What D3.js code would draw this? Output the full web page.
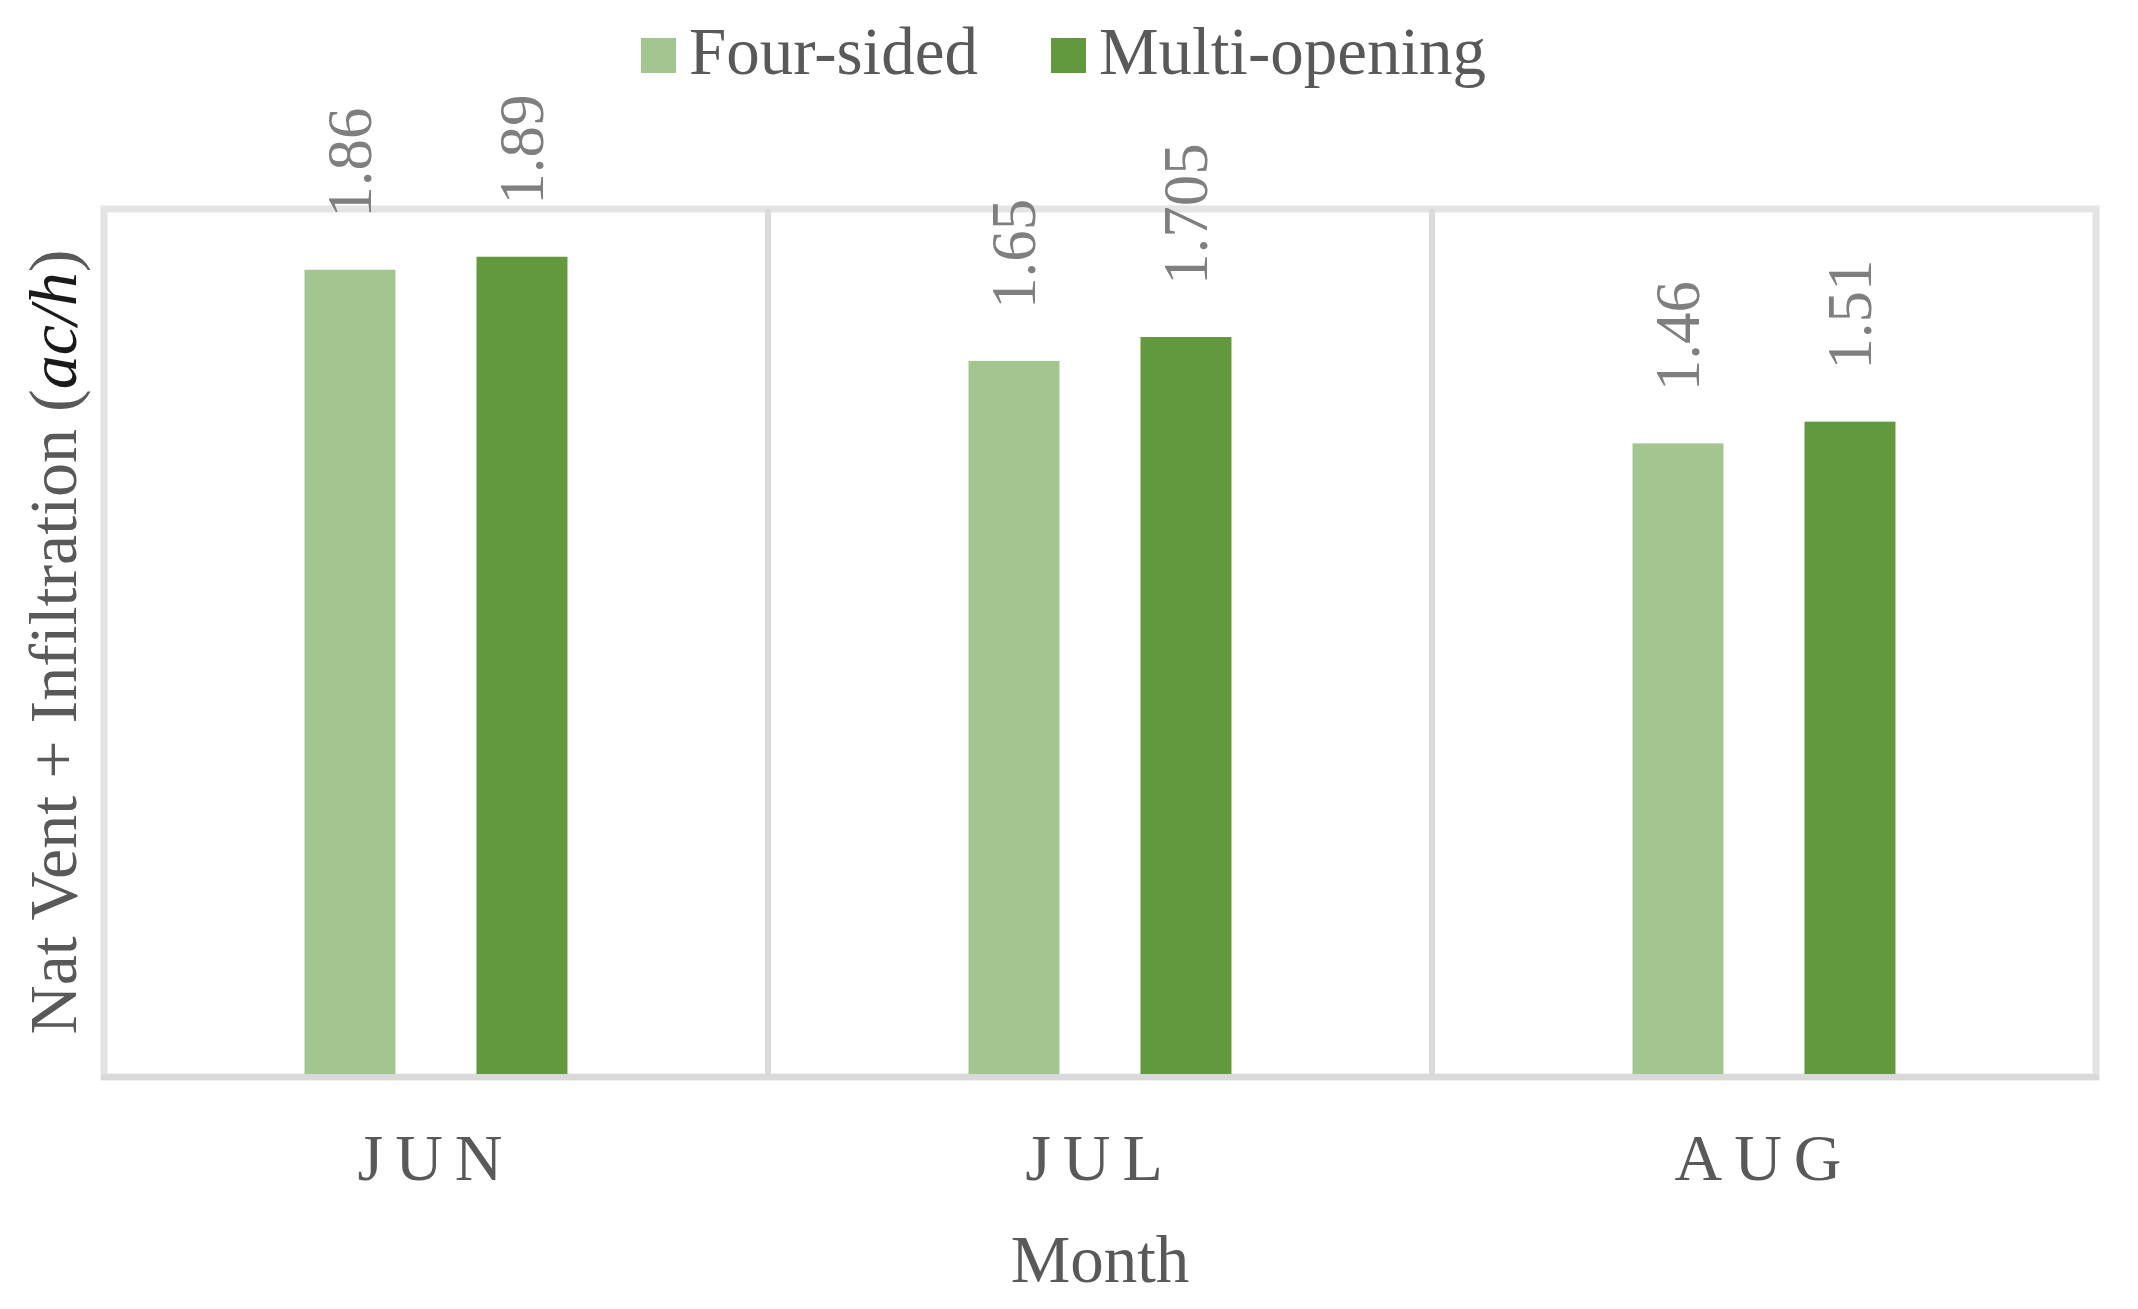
<!DOCTYPE html>
<html lang="en">

<head>
    <meta charset="UTF-8">
    <script src="https://cdn.jsdelivr.net/npm/d3@7"></script>
    <title>Nat Vent + Infiltration by month</title>
    <style>
        html, body {
            margin: 0;
            padding: 0;
            background: #fff;
        }

        svg text {
            font-family: "Liberation Serif", "Times New Roman", serif;
        }
    </style>
</head>

<body>
    <svg id="chart" width="2138" height="1309"></svg>

    <script>
        // values
        const months = ["JUN", "JUL", "AUG"];
        const seriesNames = ["Four-sided", "Multi-opening"];
        const fourSided = [1.86, 1.65, 1.46];
        const multiOpening = [1.89, 1.705, 1.51];
        const seriesColors = ["#a3c590", "#62993e"];

        const plot = { left: 104, right: 2096, top: 209, bottom: 1077 };

        const svg = d3.select("#chart");

        const x = d3.scaleBand()
            .domain(months)
            .range([plot.left, plot.right])
            .padding(0);

        // two bars in each month, wide gaps around them
        const xInner = d3.scaleBand()
            .domain(seriesNames)
            .range([0, x.bandwidth()])
            .paddingInner(0.471)
            .paddingOuter(1.166);

        const y = d3.scaleLinear()
            .domain([0, 2])
            .range([plot.bottom, plot.top]);

        const rows = months.map((m, i) => ({
            month: m,
            values: [
                { name: seriesNames[0], value: fourSided[i] },
                { name: seriesNames[1], value: multiOpening[i] }
            ]
        }));

        // plot frame
        svg.append("rect")
            .attr("x", plot.left)
            .attr("y", plot.top)
            .attr("width", plot.right - plot.left)
            .attr("height", plot.bottom - plot.top)
            .attr("fill", "none")
            .attr("stroke", "#e4e4e4")
            .attr("stroke-width", 7);

        // month dividers
        svg.selectAll("line.divider")
            .data(months.slice(1))
            .enter()
            .append("line")
            .attr("class", "divider")
            .attr("x1", d => x(d))
            .attr("x2", d => x(d))
            .attr("y1", plot.top)
            .attr("y2", plot.bottom)
            .attr("stroke", "#dadada")
            .attr("stroke-width", 6);

        const groups = svg.selectAll("g.month")
            .data(rows)
            .enter()
            .append("g")
            .attr("class", "month")
            .attr("transform", d => `translate(${x(d.month)},0)`);

        groups.selectAll("rect")
            .data(d => d.values)
            .enter()
            .append("rect")
            .attr("x", d => xInner(d.name))
            .attr("width", xInner.bandwidth())
            .attr("y", d => y(d.value))
            .attr("height", d => y(0) - y(d.value))
            .attr("fill", (d, i) => seriesColors[i]);

        // category axis line
        svg.append("line")
            .attr("x1", plot.left - 3)
            .attr("x2", plot.right + 3)
            .attr("y1", plot.bottom)
            .attr("y2", plot.bottom)
            .attr("stroke", "#d9d9d9")
            .attr("stroke-width", 6);

        // rotated value labels
        groups.selectAll("text.value")
            .data(d => d.values)
            .enter()
            .append("text")
            .attr("class", "value")
            .attr("transform", d => `translate(${xInner(d.name) + xInner.bandwidth() / 2},${y(d.value) - 52}) rotate(-90)`)
            .attr("dy", "0.33em")
            .attr("font-size", 63)
            .attr("fill", "#7f7f7f")
            .text(d => String(d.value));

        // month tick labels
        const xAxis = d3.axisBottom(x).tickSize(0).tickPadding(0);
        const axisG = svg.append("g")
            .attr("transform", `translate(0,${plot.bottom})`)
            .call(xAxis);
        axisG.select(".domain").remove();
        axisG.selectAll("text")
            .attr("y", 103)
            .attr("dy", 0)
            .attr("dx", 0)
            .attr("font-size", 66)
            .attr("letter-spacing", "12px")
            .attr("font-family", "\"Liberation Serif\", \"Times New Roman\", serif")
            .attr("fill", "#595959");

        // axis titles
        svg.append("text")
            .attr("x", (plot.left + plot.right) / 2)
            .attr("y", 1282)
            .attr("text-anchor", "middle")
            .attr("font-size", 67)
            .attr("fill", "#595959")
            .text("Month");

        const yTitle = svg.append("text")
            .attr("transform", `translate(76,642) rotate(-90)`)
            .attr("text-anchor", "middle")
            .attr("font-size", 68)
            .attr("fill", "#595959");
        yTitle.append("tspan").text("Nat Vent + Infiltration (");
        yTitle.append("tspan").attr("font-style", "italic").attr("fill", "#1a1a1a").text("ac/h");
        yTitle.append("tspan").text(")");

        // legend
        const legend = svg.append("g").attr("transform", "translate(641,0)");
        let lx = 0;
        seriesNames.forEach((name, i) => {
            legend.append("rect")
                .attr("x", lx)
                .attr("y", 38)
                .attr("width", 35)
                .attr("height", 35)
                .attr("fill", seriesColors[i]);
            const t = legend.append("text")
                .attr("x", lx + 48)
                .attr("y", 74)
                .attr("font-size", 67)
                .attr("fill", "#595959")
                .text(name);
            lx += 48 + t.node().getComputedTextLength() + 73;
        });
    </script>
</body>

</html>
